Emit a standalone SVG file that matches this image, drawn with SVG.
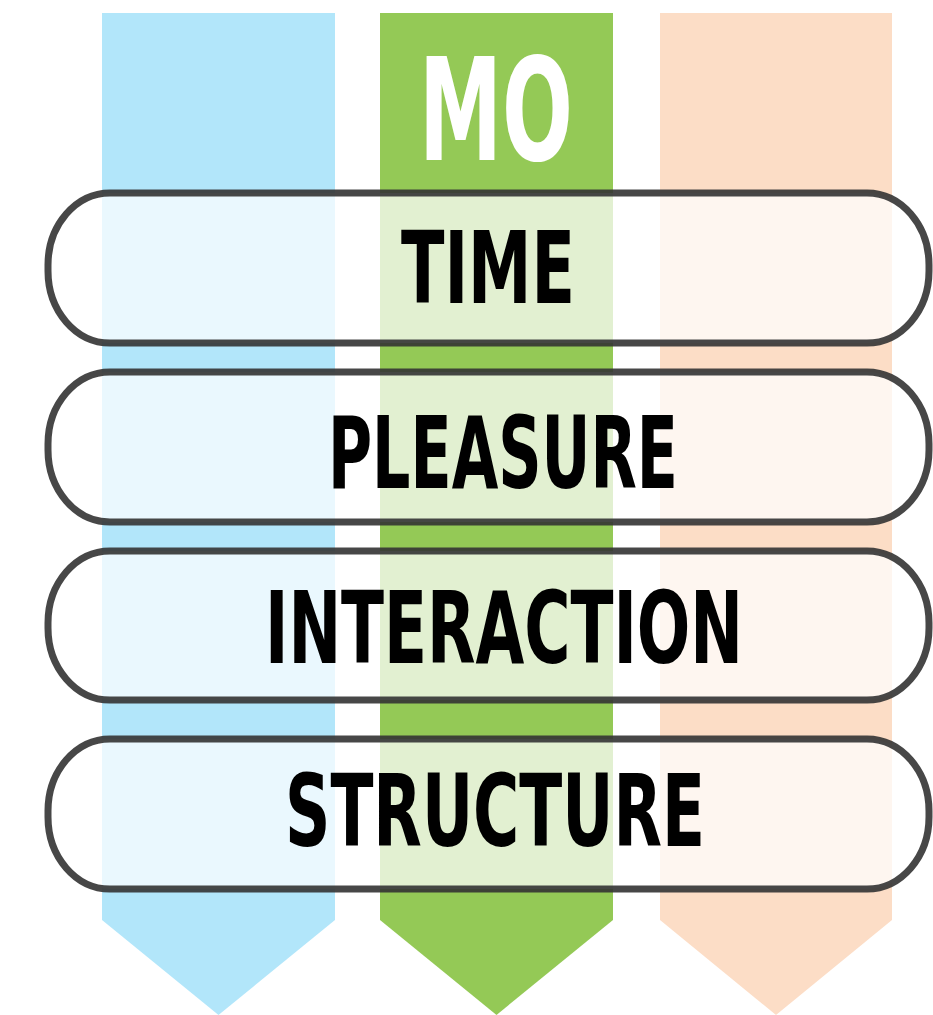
<svg xmlns="http://www.w3.org/2000/svg" width="933" height="1015" viewBox="0 0 933 1015">
  <style>
    .pill { fill: #ffffff; fill-opacity: 0.73; stroke: #333333; stroke-opacity: 0.9; stroke-width: 7; }
    .lbl { font-family: "Liberation Sans Narrow", "DejaVu Sans Condensed", "Liberation Sans", sans-serif; font-stretch: condensed; font-weight: bold; font-size: 100px; fill: #000000; }
    .mo { font-family: "Liberation Sans Narrow", "DejaVu Sans Condensed", "Liberation Sans", sans-serif; font-stretch: condensed; font-weight: bold; font-size: 143px; fill: #ffffff; }
  </style>
  <rect width="933" height="1015" fill="#ffffff"/>
  <g id="columns">
    <polygon id="col-blue" points="102,13 335,13 335,920 218.5,1015 102,920" fill="#B2E6FA"/>
    <polygon id="col-green" points="380,13 613,13 613,920 496.5,1015 380,920" fill="#94C956"/>
    <polygon id="col-orange" points="660,13 892,13 892,920 776,1015 660,920" fill="#FCDDC6"/>
  </g>
  <g id="mo-title">
    <text class="mo" x="419" y="160" textLength="154" lengthAdjust="spacingAndGlyphs">MO</text>
  </g>
  <g id="connectors"></g>
  <g id="node-time">
    <rect class="pill" x="48" y="193" width="881" height="150" rx="62" ry="72"/>
    <text class="lbl" x="401" y="303" textLength="174" lengthAdjust="spacingAndGlyphs">TIME</text>
  </g>
  <g id="node-pleasure">
    <rect class="pill" x="48" y="372" width="881" height="150" rx="62" ry="72"/>
    <text class="lbl" x="328" y="488" textLength="350" lengthAdjust="spacingAndGlyphs">PLEASURE</text>
  </g>
  <g id="node-interaction">
    <rect class="pill" x="48" y="551" width="881" height="149" rx="62" ry="72"/>
    <text class="lbl" x="265" y="663" textLength="478" lengthAdjust="spacingAndGlyphs">INTERACTION</text>
  </g>
  <g id="node-structure">
    <rect class="pill" x="48" y="739" width="881" height="150" rx="62" ry="72"/>
    <text class="lbl" x="285" y="846" textLength="420" lengthAdjust="spacingAndGlyphs">STRUCTURE</text>
  </g>
</svg>
